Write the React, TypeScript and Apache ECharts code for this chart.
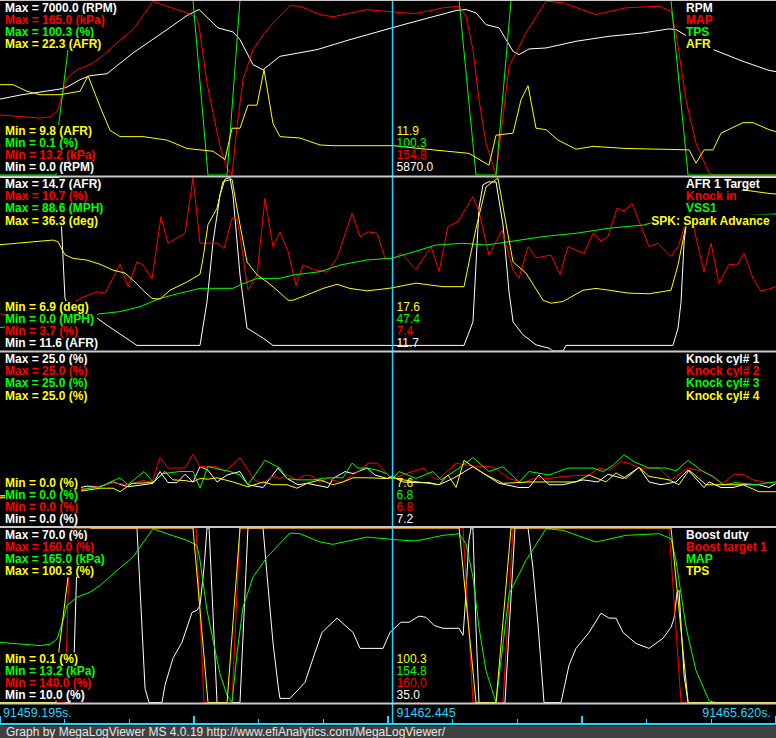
import React, { useEffect, useRef } from "react";
import * as echarts from "echarts";

type P = [number, number][];

// time axis (seconds elapsed from view start)
const T0 = 91459.195;
const SPAN = 6.425;
const CURSOR_T = 3.25;

// ---------- Panel 1 ----------
const RPM: P = [[0,3045],[0.166,3206],[0.497,3448],[0.555,3528],[0.662,3822],[0.745,3983],[0.886,4063],[1.101,4895],[1.383,5833],[1.548,6397],[1.648,6638],[1.805,5901],[1.929,5740],[1.987,5431],[2.095,4425],[2.178,4224],[2.318,4760],[2.625,5029],[2.898,5431],[3.312,5994],[3.776,6598],[3.858,6638],[3.941,6504],[4.024,6034],[4.132,5901],[4.248,4961],[4.297,4828],[4.38,5056],[4.521,5096],[4.769,5364],[5.043,5565],[5.324,5698],[5.539,5861],[5.597,5833],[5.738,5431],[5.871,5096],[6.152,4559],[6.367,4197],[6.425,4144]];
const MAP: P = [[0,65.5],[0.331,62.7],[0.414,63.8],[0.472,68.4],[0.513,81.5],[0.555,97.6],[0.638,104.8],[0.745,109.2],[0.828,115.0],[0.969,128.1],[1.101,139.7],[1.267,164.4],[1.383,160.0],[1.548,154.3],[1.631,149.9],[1.656,137.1],[1.714,93.2],[1.764,67.3],[1.822,37.9],[1.88,19.3],[1.921,13.2],[1.962,55.3],[2.012,96.1],[2.095,122.3],[2.211,139.7],[2.343,154.3],[2.401,160.6],[2.484,160.0],[2.65,152.8],[2.757,150.8],[3.039,157.1],[3.312,154.5],[3.444,153.7],[3.668,158.6],[3.801,160.0],[3.858,151.3],[3.916,122.3],[3.966,78.6],[4.024,40.9],[4.107,13.2],[4.148,49.6],[4.215,107.7],[4.355,136.8],[4.521,164.4],[4.662,163.0],[4.935,152.8],[5.183,158.6],[5.457,160.0],[5.556,155.7],[5.597,136.8],[5.68,78.6],[5.763,40.9],[5.871,14.7],[5.92,13.2],[6.425,13.2]];
const TPS: P = [[0,0.1],[0.464,0.1],[0.489,30.7],[0.563,72.0],[0.596,100.3],[1.598,100.3],[1.722,0.1],[1.88,0.1],[1.987,100.3],[3.801,100.3],[3.941,0.1],[4.107,0.1],[4.231,100.3],[5.556,100.3],[5.697,0.1],[6.425,0.1]];
const AFR: P = [[0,16.27],[0.108,16.27],[0.224,15.8],[0.331,15.55],[0.497,15.55],[0.662,15.8],[0.729,16.9],[0.828,14.7],[0.911,13.0],[0.994,12.55],[1.184,12.55],[1.383,12.3],[1.548,11.7],[1.764,11.5],[1.863,10.9],[1.921,13.15],[1.987,13.15],[2.053,14.8],[2.128,14.8],[2.186,17.35],[2.26,13.5],[2.318,12.55],[2.484,12.45],[2.65,11.95],[2.757,11.9],[3.254,11.9],[3.527,11.65],[3.883,11.35],[4.049,10.5],[4.107,12.65],[4.248,12.8],[4.314,15.2],[4.372,16.2],[4.438,13.15],[4.521,13.05],[4.62,12.3],[4.769,11.65],[4.91,11.85],[5.183,11.7],[5.457,11.65],[5.705,11.6],[5.763,10.65],[5.829,11.6],[5.904,11.6],[5.97,12.8],[6.152,13.55],[6.235,13.55],[6.367,13.05],[6.425,12.9]];

// ---------- Panel 2 ----------
const AFR_TARGET: P = [[0,14.7],[0.489,14.7],[0.538,12.55],[0.58,12.28],[0.77,12.24],[0.886,12.06],[1.134,11.7],[1.656,11.7],[1.714,12.48],[1.764,13.55],[1.822,14.39],[1.863,14.67],[1.904,14.7],[1.929,14.39],[1.987,12.96],[2.045,12.01],[2.178,11.83],[2.26,11.7],[3.842,11.7],[3.916,12.12],[3.966,14.16],[3.999,14.57],[4.041,14.62],[4.107,14.62],[4.165,13.85],[4.215,12.65],[4.248,12.12],[4.33,11.89],[4.438,11.71],[4.546,11.65],[4.579,11.6],[4.662,11.6],[4.686,11.7],[5.572,11.7],[5.614,12.01],[5.639,12.48],[5.664,13.55],[5.697,14.12],[5.73,14.7],[6.425,14.7]];
const KNOCK_IN: P = [[0,5.2],[0.331,5.0],[0.58,5.6],[0.679,5.85],[0.803,6.09],[0.869,6.03],[0.994,7.2],[1.06,6.29],[1.134,7.3],[1.184,7.17],[1.259,6.61],[1.333,9.12],[1.391,8.05],[1.532,8.45],[1.598,10.7],[1.656,8.05],[1.797,8.05],[1.855,7.84],[1.921,9.05],[1.962,9.05],[1.995,8.11],[2.053,6.16],[2.128,6.77],[2.194,9.86],[2.26,7.91],[2.318,8.51],[2.385,7.71],[2.451,6.36],[2.509,7.17],[2.608,6.97],[2.708,6.88],[2.79,7.44],[2.915,9.26],[2.981,8.31],[3.047,8.51],[3.122,8.45],[3.188,7.45],[3.254,7.4],[3.32,7.64],[3.444,6.99],[3.569,7.91],[3.635,6.9],[3.709,8.72],[3.792,8.92],[3.916,9.93],[3.966,9.32],[4.049,7.57],[4.157,8.58],[4.248,6.97],[4.297,6.63],[4.372,7.91],[4.438,7.46],[4.562,7.57],[4.637,6.79],[4.703,7.91],[4.836,7.64],[4.91,8.45],[4.976,8.14],[5.034,8.31],[5.109,9.46],[5.167,9.35],[5.233,9.66],[5.374,7.91],[5.448,8.05],[5.556,7.51],[5.622,7.98],[5.68,8.99],[5.73,8.99],[5.829,6.9],[5.887,8.05],[5.953,6.43],[6.036,7.2],[6.102,7.17],[6.16,7.64],[6.235,6.63],[6.301,6.12],[6.367,6.2],[6.425,6.3]];
const VSS1: P = [[0,12],[0.497,15],[0.745,18.4],[0.994,20.1],[1.159,22.6],[1.325,26.9],[1.49,29.5],[1.656,32.0],[1.929,32.0],[1.987,33.7],[2.128,37.1],[2.318,37.1],[2.426,38.8],[2.65,40.5],[2.815,43.9],[3.039,46.5],[3.246,47.4],[3.387,49.9],[3.61,54.1],[3.834,55.0],[4.024,54.1],[4.215,55.8],[4.496,58.4],[4.769,60.1],[5.043,62.7],[5.324,64.3],[5.432,66.0],[5.796,68.0],[6.425,70.0]];
const SPK: P = [[0,24.9],[0.273,25.4],[0.439,25.7],[0.48,25.4],[0.538,23.2],[0.604,22.6],[0.72,22.3],[0.828,21.6],[0.936,20.6],[1.035,20.1],[1.118,18.6],[1.184,17.2],[1.259,15.8],[1.325,15.7],[1.408,17.2],[1.548,18.6],[1.656,19.9],[1.681,22.6],[1.722,28.3],[1.797,31.1],[1.846,35.6],[1.921,36.0],[1.954,32.0],[1.987,28.3],[2.045,22.0],[2.128,19.8],[2.211,18.6],[2.294,17.2],[2.385,15.5],[2.426,15.5],[2.542,16.4],[2.674,17.5],[2.79,18.2],[2.898,17.5],[3.039,17.1],[3.171,17.4],[3.246,17.6],[3.444,18.4],[3.668,17.8],[3.842,17.8],[3.941,27.7],[4.024,34.7],[4.082,35.6],[4.123,36.2],[4.206,26.6],[4.248,22.0],[4.355,20.1],[4.496,15.5],[4.562,15.0],[4.662,15.3],[4.827,17.2],[4.935,17.5],[5.043,17.2],[5.208,16.7],[5.374,16.6],[5.556,17.2],[5.614,21.5],[5.68,28.3],[5.796,34.9],[6.152,34.2],[6.367,33.6],[6.425,33.5]];

// ---------- Panel 3 ----------
const KNOCK1: P = [[0,4.4],[0.33,4.8],[0.638,5.5],[0.72,5.8],[0.828,5.7],[0.936,6.4],[1.06,5.7],[1.184,6.0],[1.267,6.2],[1.325,7.9],[1.391,6.3],[1.466,6.3],[1.532,7.5],[1.598,6.4],[1.656,8.6],[1.722,8.1],[1.797,6.4],[1.88,7.4],[1.987,7.9],[2.053,6.0],[2.178,5.6],[2.302,8.4],[2.376,6.9],[2.467,6.0],[2.542,6.2],[2.716,5.6],[2.757,6.9],[2.857,7.9],[2.923,7.6],[3.039,8.4],[3.105,7.4],[3.204,6.9],[3.246,7.2],[3.337,6.4],[3.444,6.3],[3.552,6.3],[3.635,6.0],[3.751,6.9],[3.916,8.6],[4.132,6.2],[4.297,5.6],[4.38,5.6],[4.463,7.4],[4.546,6.0],[4.662,6.0],[4.827,6.7],[4.951,6.4],[5.034,7.5],[5.158,6.9],[5.291,8.5],[5.374,6.4],[5.473,6.0],[5.597,6.4],[5.697,8.1],[5.829,5.6],[5.871,6.4],[5.97,5.6],[6.069,5.6],[6.152,6.0],[6.285,6.0],[6.367,5.6],[6.425,6.2]];
const KNOCK2: P = [[0,4.3],[0.33,4.6],[0.638,5.3],[0.828,5.8],[0.936,6.3],[1.06,6.0],[1.184,6.6],[1.259,6.4],[1.325,9.9],[1.391,8.4],[1.532,8.4],[1.598,10.4],[1.656,8.6],[1.797,8.6],[1.863,7.9],[1.987,9.9],[2.111,6.6],[2.178,6.2],[2.252,7.2],[2.318,6.9],[2.376,7.4],[2.459,6.7],[2.525,7.4],[2.592,7.2],[2.65,6.4],[2.716,6.9],[2.832,6.3],[2.981,8.1],[3.047,9.1],[3.122,9.1],[3.246,6.8],[3.362,7.6],[3.511,8.4],[3.569,7.2],[3.627,6.7],[3.776,9.1],[3.9,8.7],[4.024,8.6],[4.09,8.5],[4.215,6.9],[4.33,6.3],[4.438,7.0],[4.546,6.9],[4.662,7.2],[4.877,7.4],[4.96,8.4],[5.043,8.1],[5.142,9.3],[5.208,9.1],[5.291,8.4],[5.457,8.4],[5.556,6.7],[5.697,8.4],[5.829,7.9],[5.986,6.2],[6.078,7.5],[6.152,7.5],[6.235,6.7],[6.326,6.4],[6.425,6.2]];
const KNOCK3: P = [[0,4.2],[0.33,4.5],[0.638,5.2],[0.828,5.7],[0.994,7.0],[1.06,6.0],[1.192,7.9],[1.267,6.4],[1.35,7.6],[1.49,7.9],[1.598,7.9],[1.656,5.5],[1.722,8.6],[1.904,7.9],[1.987,7.4],[2.053,6.0],[2.194,9.5],[2.318,8.4],[2.376,6.9],[2.459,6.7],[2.592,6.7],[2.716,7.0],[2.84,7.0],[2.915,9.1],[2.964,8.4],[3.039,8.4],[3.122,8.1],[3.204,7.6],[3.246,6.8],[3.304,7.9],[3.444,6.9],[3.585,7.9],[3.651,6.7],[3.776,8.1],[3.916,9.9],[4.049,7.9],[4.165,8.6],[4.297,6.4],[4.38,7.9],[4.546,7.4],[4.703,8.4],[4.91,8.4],[4.993,7.9],[5.076,8.8],[5.167,10.3],[5.25,9.3],[5.374,8.4],[5.514,8.4],[5.597,8.0],[5.697,9.5],[5.821,7.9],[5.904,7.2],[5.986,6.0],[6.094,6.3],[6.26,6.0],[6.367,6.3],[6.425,6.4]];
const KNOCK4: P = [[0,4.1],[0.33,4.4],[0.638,5.0],[0.828,5.5],[0.936,5.5],[0.994,5.0],[1.093,6.2],[1.267,6.3],[1.366,7.9],[1.432,6.7],[1.532,6.6],[1.598,6.4],[1.656,6.9],[1.722,6.8],[1.797,7.0],[1.929,6.4],[2.053,5.7],[2.178,6.4],[2.26,6.0],[2.376,6.0],[2.459,5.5],[2.542,6.2],[2.65,6.7],[2.757,6.0],[2.84,6.4],[2.923,7.0],[3.039,7.0],[3.204,6.9],[3.246,7.0],[3.337,6.7],[3.635,6.0],[3.709,7.4],[3.776,5.6],[3.842,9.5],[3.916,8.6],[4.024,7.4],[4.165,6.2],[4.38,6.4],[4.546,6.4],[4.769,6.4],[4.877,7.4],[5.018,6.4],[5.1,7.7],[5.183,6.9],[5.291,8.5],[5.374,7.2],[5.539,6.7],[5.622,6.0],[5.705,8.1],[5.846,6.0],[6.152,6.0],[6.285,5.0],[6.425,5.0]];

// ---------- Panel 4 ----------
const BOOST_DUTY: P = [[0,10],[0.58,10],[0.613,25.2],[0.646,70],[1.134,70],[1.151,56.2],[1.201,14.8],[1.234,10],[1.341,10],[1.366,15.9],[1.432,25.2],[1.507,30.7],[1.59,41.0],[1.631,41.7],[1.656,43.4],[1.689,56.2],[1.714,70],[1.731,70],[1.797,10],[1.987,10],[2.053,70],[2.178,70],[2.211,53.8],[2.26,30.7],[2.302,15.9],[2.318,11.4],[2.401,11.4],[2.525,16.9],[2.592,25.2],[2.666,34.1],[2.79,39.0],[2.923,34.1],[2.981,28.6],[3.171,28.6],[3.229,34.1],[3.32,37.6],[3.387,37.6],[3.469,39.7],[3.527,39.3],[3.594,36.5],[3.668,35.5],[3.801,35.5],[3.834,33.1],[3.85,42.4],[3.883,65.9],[3.9,70],[3.916,70],[3.941,35.5],[3.966,10],[4.181,10],[4.264,70],[4.372,70],[4.413,56.2],[4.455,36.5],[4.504,10],[4.645,10],[4.711,22.8],[4.769,28.6],[4.877,34.1],[4.976,40.7],[5.043,39.0],[5.1,39.0],[5.158,34.1],[5.266,30.3],[5.374,28.6],[5.49,32.1],[5.556,35.9],[5.581,39.0],[5.606,47.9],[5.622,48.6],[5.639,36.5],[5.664,19.3],[5.697,10],[6.425,10]];
const BOOST_TARGET: P = [[0,140],[0.538,140],[0.555,148],[0.58,160],[1.623,160],[1.656,150],[1.689,140],[1.921,140],[1.954,150],[1.987,160],[3.834,160],[3.875,150],[3.916,140],[4.165,140],[4.206,150],[4.248,160],[5.539,160],[5.589,150],[5.639,140],[6.425,140]];

// ---------- labels / scales ----------
const PANEL_NAMES = [
  ["RPM", "MAP", "TPS", "AFR"],
  ["AFR 1 Target", "Knock in", "VSS1", "SPK: Spark Advance"],
  ["Knock cyl# 1", "Knock cyl# 2", "Knock cyl# 3", "Knock cyl# 4"],
  ["Boost duty", "Boost target 1", "MAP", "TPS"],
];
const PANEL_UNITS = [
  ["RPM", "kPa", "%", "AFR"],
  ["AFR", "%", "MPH", "deg"],
  ["%", "%", "%", "%"],
  ["%", "%", "kPa", "%"],
];
const PANEL_MAX = [[7000, 165, 100.3, 22.3], [14.7, 10.7, 88.6, 36.3], [25, 25, 25, 25], [70, 160, 165, 100.3]];
const PANEL_MIN = [[0, 13.2, 0.1, 9.8], [11.6, 3.7, 0, 6.9], [0, 0, 0, 0], [10, 140, 13.2, 0.1]];
const CURSOR_VALUES = [[5870, 154.8, 100.3, 11.9], [11.7, 7.4, 47.4, 17.6], [7.2, 6.8, 6.8, 7.6], [35, 160, 154.8, 100.3]];
const PANEL_DATA: P[][] = [
  [RPM, MAP, TPS, AFR],
  [AFR_TARGET, KNOCK_IN, VSS1, SPK],
  [KNOCK1, KNOCK2, KNOCK3, KNOCK4],
  [BOOST_DUTY, BOOST_TARGET, MAP, TPS],
];
const FOOTER = "Graph by MegaLogViewer MS 4.0.19 http://www.efiAnalytics.com/MegaLogViewer/";

const COLORS = ["#ffffff", "#ff0000", "#00ff00", "#ffff00"];
const CYAN = "#1ed6ff";
const SEP = "#c8c8c8";
const FONT_FAMILY = '"Liberation Sans", Arial, sans-serif';
const BOLD = `bold 12px ${FONT_FAMILY}`;
const REG = `12px ${FONT_FAMILY}`;

const GRID_TOP = [0.5, 177.5, 352.5, 528];
const GRID_BOTTOM = [175, 351, 526.5, 702.5];

export default function App() {
  const ref = useRef<HTMLDivElement>(null);
  useEffect(() => {
    document.body.style.margin = "0";
    const el = ref.current!;
    const chart = echarts.init(el, null, { renderer: "svg" });
    const W = 776;

    const grid: any[] = GRID_TOP.map((t, i) => ({ left: 0, right: 0, top: t, height: GRID_BOTTOM[i] - t }));
    grid.push({ left: 0, right: 0, top: 704, height: 20 });

    const xAxis: any[] = GRID_TOP.map((_, i) => ({ gridIndex: i, type: "value", min: 0, max: SPAN, show: false }));
    xAxis.push({
      gridIndex: 4, type: "value", min: 0, max: SPAN, interval: SPAN / 4,
      axisLine: { show: true, lineStyle: { color: CYAN, width: 2 } },
      axisTick: { show: true, inside: true, length: 8, lineStyle: { color: CYAN, width: 2 } },
      minorTick: { show: true, splitNumber: 3, length: 5, lineStyle: { color: CYAN, width: 1 } },
      axisLabel: { show: false }, splitLine: { show: false }, minorSplitLine: { show: false },
    });

    const yAxis: any[] = [];
    const series: any[] = [];
    PANEL_DATA.forEach((arr, p) => {
      arr.forEach((data, k) => {
        const yi = yAxis.length;
        yAxis.push({ gridIndex: p, type: "value", min: PANEL_MIN[p][k], max: PANEL_MAX[p][k], show: false });
        series.push({
          type: "line", name: PANEL_NAMES[p][k], xAxisIndex: p, yAxisIndex: yi, data,
          showSymbol: false, symbol: "none", silent: true, clip: true, z: 2 + k,
          lineStyle: { color: COLORS[k], width: 1 }, itemStyle: { color: COLORS[k] },
        });
      });
    });
    yAxis.push({ gridIndex: 4, min: 0, max: 1, show: false });

    chart.setOption({
      animation: false,
      backgroundColor: "#000",
      grid, xAxis, yAxis, series,
    });

    const cx = chart.convertToPixel({ xAxisIndex: 0 }, CURSOR_T) as number;
    const ctx = document.createElement("canvas").getContext("2d")!;
    ctx.font = BOLD;

    const els: any[] = [];
    const label = (x: number, y: number, text: string, color: string, font: string, align = "left", bg = true) => {
      els.push({
        type: "text", x, y, z: 100,
        style: {
          text, fill: color, font, align, verticalAlign: "middle", textAlign: align, textVerticalAlign: "middle",
          backgroundColor: bg ? "#000" : undefined, padding: bg ? [0, 3, 0, 0] : 0, lineHeight: 12,
        },
      });
    };

    // separators
    els.push({ type: "rect", z: 90, shape: { x: 0, y: 0, width: W, height: 1 }, style: { fill: SEP } });
    [175.5, 350.5, 526, 702.5].forEach((y) =>
      els.push({ type: "rect", z: 90, shape: { x: 0, y, width: W, height: 2 }, style: { fill: SEP } })
    );
    // cursor
    els.push({ type: "rect", z: 80, shape: { x: cx - 0.75, y: 0, width: 1.5, height: 724 }, style: { fill: CYAN } });

    PANEL_DATA.forEach((_, p) => {
      const top = GRID_TOP[p] + (p === 0 ? 0.5 : 0);
      const bottom = GRID_BOTTOM[p];
      for (let k = 0; k < 4; k++) {
        const yMax = top + 6.5 + 12.2 * k;
        label(5, yMax, `Max = ${PANEL_MAX[p][k].toFixed(1)} (${PANEL_UNITS[p][k]})`, COLORS[k], BOLD);
        const yMin = bottom - 8 - 12 * k;
        label(5, yMin, `Min = ${PANEL_MIN[p][k].toFixed(1)} (${PANEL_UNITS[p][k]})`, COLORS[k], BOLD);
        label(cx + 4, yMin, CURSOR_VALUES[p][k].toFixed(1), COLORS[k], REG, "left", false);
        const w = ctx.measureText(PANEL_NAMES[p][k]).width;
        label(Math.min(686, 770 - w), yMax, PANEL_NAMES[p][k], COLORS[k], BOLD);
      }
    });

    // time labels
    label(3, 713, `${T0.toFixed(3)}s.`, CYAN, `12.5px ${FONT_FAMILY}`, "left", false);
    label(cx + 4, 713, (T0 + CURSOR_T).toFixed(3), CYAN, `12.5px ${FONT_FAMILY}`, "left", false);
    label(771, 713, `${(T0 + SPAN).toFixed(3)}s.`, CYAN, `12.5px ${FONT_FAMILY}`, "right", false);

    // footer
    els.push({ type: "rect", z: 90, shape: { x: 0, y: 726, width: W, height: 12 }, style: { fill: "#404040" } });
    els.push({
      type: "text", x: 6, y: 732, z: 100,
      style: { text: FOOTER, fill: "#e6e6e6", font: `12px ${FONT_FAMILY}`, verticalAlign: "middle", textVerticalAlign: "middle" },
    });

    chart.setOption({ graphic: { elements: els } });
    return () => chart.dispose();
  }, []);
  return <div ref={ref} style={{ width: 776, height: 738, background: "#000" }} />;
}
